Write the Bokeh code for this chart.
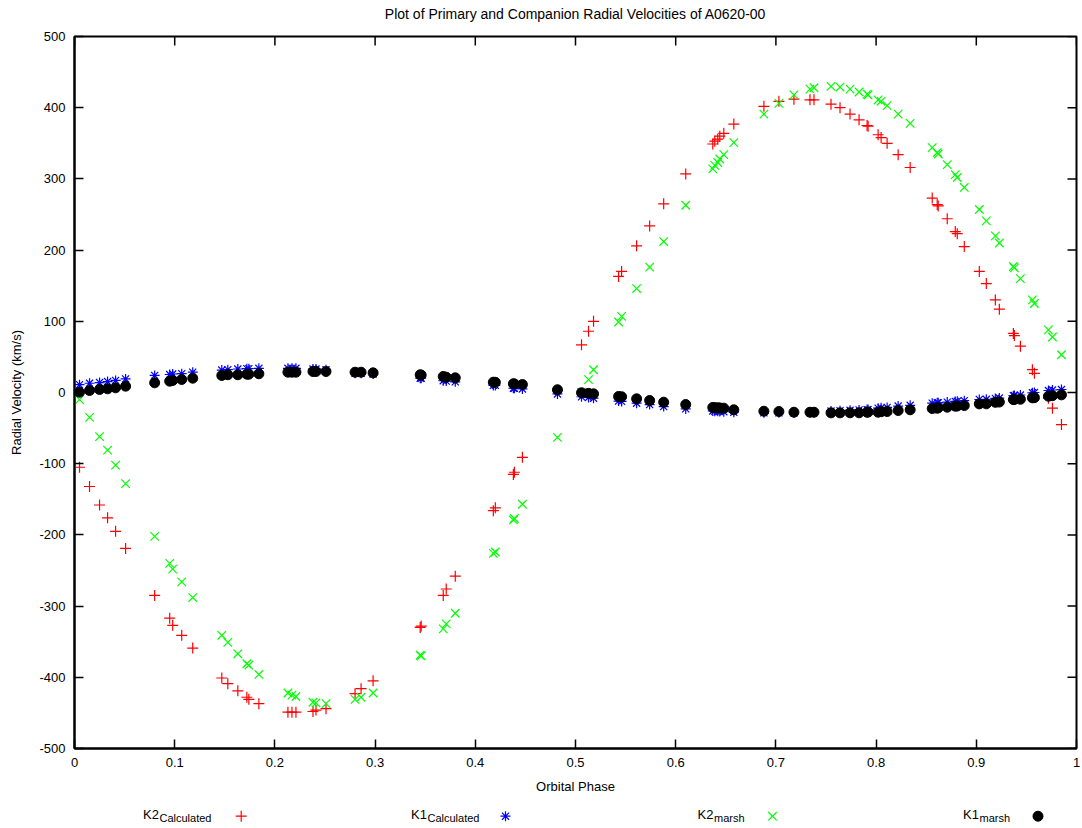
import math
from bokeh.plotting import figure
from bokeh.layouts import column
from bokeh.models import Range1d, FixedTicker
from bokeh.core.properties import value
from bokeh.embed import file_html
from bokeh.resources import INLINE

phase = [0.005, 0.015, 0.025, 0.033, 0.041, 0.051, 0.080, 0.095, 0.098, 0.107,
         0.118, 0.147, 0.153, 0.163, 0.172, 0.174, 0.184, 0.213, 0.217, 0.221,
         0.238, 0.241, 0.251, 0.280, 0.286, 0.298, 0.345, 0.346, 0.368, 0.371,
         0.380, 0.418, 0.420, 0.438, 0.439, 0.447, 0.482, 0.506, 0.513, 0.518,
         0.543, 0.546, 0.561, 0.574, 0.588, 0.610, 0.637, 0.639, 0.642, 0.644,
         0.648, 0.658, 0.688, 0.703, 0.718, 0.734, 0.738, 0.755, 0.764, 0.774,
         0.783, 0.791, 0.792, 0.802, 0.805, 0.811, 0.822, 0.834, 0.856, 0.861,
         0.862, 0.871, 0.879, 0.881, 0.888, 0.903, 0.910, 0.919, 0.923, 0.937,
         0.938, 0.944, 0.956, 0.958, 0.972, 0.976, 0.985]

k2_calculated = [-105, -132, -158, -176, -195, -219, -285, -317, -327, -341,
                 -359, -401, -409, -419, -428, -431, -437, -449, -449, -449,
                 -448, -446, -444, -423, -416, -405, -330, -328, -285, -276,
                 -258, -166, -162, -115, -112, -91, 3, 67, 86, 100,
                 163, 170, 206, 234, 265, 307, 349, 353, 356, 360,
                 364, 377, 402, 409, 412, 411, 411, 405, 400, 391,
                 383, 375, 374, 362, 358, 350, 334, 316, 273, 264,
                 262, 244, 226, 223, 205, 170, 153, 130, 117, 83,
                 80, 65, 32, 27, -8, -22, -45]

k1_calculated = [11, 13, 14, 15.4, 17, 19, 24, 25.3, 26, 26.5,
                 28.5, 31.5, 32, 33, 33.5, 33.5, 34, 34, 34, 34,
                 33, 33, 32, 27, 27, 26, 20, 20, 16.5, 16,
                 15, 10, 10, 6, 6, 5, -2, -6, -7, -8,
                 -12, -12.5, -15, -17, -19.7, -23, -26, -26.3, -26.5, -26.7,
                 -27, -27.7, -28.5, -28.5, -28.5, -28, -28, -26, -25.5, -25,
                 -24.5, -24, -24, -22, -21.5, -21, -19, -18, -15, -14.5,
                 -14.5, -13.5, -12.6, -12.3, -11.5, -9.8, -9.5, -8.3, -7.8, -4.5,
                 -4.2, -3.5, -0.4, 0, 2.8, 3.5, 4.2]

k2_marsh = [-10, -35, -62, -81, -102, -128, -202, -240, -248, -266,
            -288, -341, -351, -367, -381, -383, -396, -422, -425, -427,
            -435, -436, -437, -431, -428, -422, -369, -370, -332, -325,
            -310, -226, -224, -179, -177, -157, -63, 0.4, 18, 32,
            99, 107, 146, 176, 212, 263, 314, 319, 323, 328,
            334, 351, 391, 406, 418, 426, 428, 430, 429, 426,
            422, 419, 418, 411, 409, 403, 391, 378, 344, 337,
            335, 320, 306, 302, 288, 257, 241, 220, 210, 177,
            175, 160, 130, 125, 88, 78, 53]

k1_marsh = [0.4, 2.8, 4.2, 5.2, 6.6, 8.9, 13.6, 15.9, 16.9, 18.3,
            20.1, 23.9, 24.9, 24.9, 25.7, 25.7, 26.3, 28.5, 28.5, 28.5,
            29.5, 29.5, 29.5, 28.5, 28.5, 27.6, 24.8, 24.5, 22.5, 21.5,
            20.6, 14.5, 14.3, 12.2, 12, 11.2, 3.8, -0.4, -1.2, -1.9,
            -5.6, -6, -8.9, -11.2, -13.6, -16.9, -21, -21.3, -21.5, -21.7,
            -22, -24.3, -26.3, -26.7, -27.7, -27.7, -27.7, -28.6, -28.6, -28.5,
            -28.5, -27.7, -27.5, -27.7, -27, -26.7, -25.3, -24.3, -22.5, -22,
            -21.5, -20.6, -19.2, -19, -18.3, -16, -15.9, -13.8, -13.4, -10,
            -9.8, -9.5, -7.5, -7.2, -5.2, -4.5, -3.3]

x_ticks = [0, 0.1, 0.2, 0.3, 0.4, 0.5, 0.6, 0.7, 0.8, 0.9, 1]
x_tick_labels = ["0", "0.1", "0.2", "0.3", "0.4", "0.5", "0.6", "0.7", "0.8", "0.9", "1"]
y_ticks = [-500, -400, -300, -200, -100, 0, 100, 200, 300, 400, 500]
y_tick_labels = ["-500", "-400", "-300", "-200", "-100", "0", "100", "200", "300", "400", "500"]

title_text = "Plot of Primary and Companion Radial Velocities of A0620-00"
series_names = ["K2", "K1", "K2", "K1"]
series_subs = ["Calculated", "Calculated", "marsh", "marsh"]
series_colors = ["#ff0000", "#0000ff", "#00ff00", "black"]
series_markers = ["cross", "asterisk", "x", "circle"]
series_sizes = [11, 10, 12, 10]

FONT = "Liberation Sans"
X_MIN, X_MAX = 0, 1
Y_MIN, Y_MAX = -500, 500

# frame spans page pixels 74..1076 horizontally (strips share this frame)
FRAME_L, FRAME_R = 74, 1076


def strip(height):
    s = figure(width=1082, height=height, output_backend="svg", toolbar_location=None,
               x_range=Range1d(FRAME_L, FRAME_R), y_range=Range1d(height, 0),
               x_axis_type=None, y_axis_type=None,
               min_border_left=74, min_border_right=6, min_border_top=0, min_border_bottom=0)
    s.grid.visible = False
    s.outline_line_color = None
    s.background_fill_color = "white"
    s.border_fill_color = "white"
    return s


# ---------------- title strip ----------------
title_fig = strip(26)
title_fig.text(x=[(FRAME_L + FRAME_R) / 2], y=[13], text=[title_text],
               text_font=value(FONT), text_font_size="14px", text_color="black",
               text_baseline="middle", text_align="center")

# ---------------- main plot ----------------
p = figure(width=1082, height=774, output_backend="svg", toolbar_location=None,
           x_range=Range1d(X_MIN, X_MAX), y_range=Range1d(Y_MIN, Y_MAX),
           min_border_left=74, min_border_right=6, min_border_top=10, min_border_bottom=52)
p.grid.visible = False
p.outline_line_color = "black"
p.outline_line_width = 2
p.background_fill_color = "white"
p.border_fill_color = "white"

bottom_axis = p.below[0]
left_axis = p.left[0]

bottom_axis.ticker = FixedTicker(ticks=x_ticks)
bottom_axis.major_label_overrides = {t: l for t, l in zip(x_ticks, x_tick_labels)}
left_axis.ticker = FixedTicker(ticks=y_ticks)
left_axis.major_label_overrides = {t: l for t, l in zip(y_ticks, y_tick_labels)}

for ax in (bottom_axis, left_axis):
    ax.major_tick_in = 9
    ax.major_tick_out = 0
    ax.minor_tick_line_color = None
    ax.major_tick_line_color = "black"
    ax.major_tick_line_width = 1.5
    ax.axis_line_color = "black"
    ax.axis_line_width = 2
    ax.major_label_text_font = FONT
    ax.major_label_text_font_size = "13px"
    ax.major_label_text_color = "black"
    ax.axis_label_text_font = FONT
    ax.axis_label_text_font_size = "13px"
    ax.axis_label_text_font_style = "normal"
    ax.axis_label_text_color = "black"

bottom_axis.axis_label = "Orbital Phase"
bottom_axis.major_label_standoff = 9
bottom_axis.axis_label_standoff = 9
left_axis.axis_label = "Radial Velocity (km/s)"
left_axis.major_label_standoff = 9
left_axis.axis_label_standoff = 12

# mirrored ticks on the top and right borders (gnuplot style)
p.ray(x=x_ticks, y=[Y_MAX] * len(x_ticks), length=9, length_units="screen",
      angle=-math.pi / 2, line_color="black", line_width=1.5)
p.ray(x=[X_MAX] * len(y_ticks), y=y_ticks, length=9, length_units="screen",
      angle=math.pi, line_color="black", line_width=1.5)

series_values = [k2_calculated, k1_calculated, k2_marsh, k1_marsh]
for vals, col, mk, sz in zip(series_values, series_colors, series_markers, series_sizes):
    if mk == "circle":
        p.scatter(phase, vals, marker=mk, size=sz, fill_color=col, line_color=col)
    else:
        p.scatter(phase, vals, marker=mk, size=sz, line_color=col, line_width=1.2)

# ---------------- key (legend strip below the plot) ----------------
leg = strip(28)

key_text_x = [142.5, 410.5, 697, 962.5]
key_sub_dx = 16.5
key_marker_x = [240.7, 505, 772, 1037.5]
key_text_y = 14
key_sub_y = 17.5
key_marker_y = 15.7

leg.text(x=key_text_x, y=[key_text_y] * 4, text=series_names,
         text_font=value(FONT), text_font_size="13px", text_color="black",
         text_baseline="alphabetic", text_align="left")
leg.text(x=[x + key_sub_dx for x in key_text_x], y=[key_sub_y] * 4, text=series_subs,
         text_font=value(FONT), text_font_size="11px", text_color="black",
         text_baseline="alphabetic", text_align="left")
for kx, col, mk, sz in zip(key_marker_x, series_colors, series_markers, series_sizes):
    if mk == "circle":
        leg.scatter([kx], [key_marker_y], marker=mk, size=sz, fill_color=col, line_color=col)
    else:
        leg.scatter([kx], [key_marker_y], marker=mk, size=sz, line_color=col, line_width=1.2)

layout = column(title_fig, p, leg, spacing=0)
open("out.html", "w").write(file_html(layout, INLINE))
